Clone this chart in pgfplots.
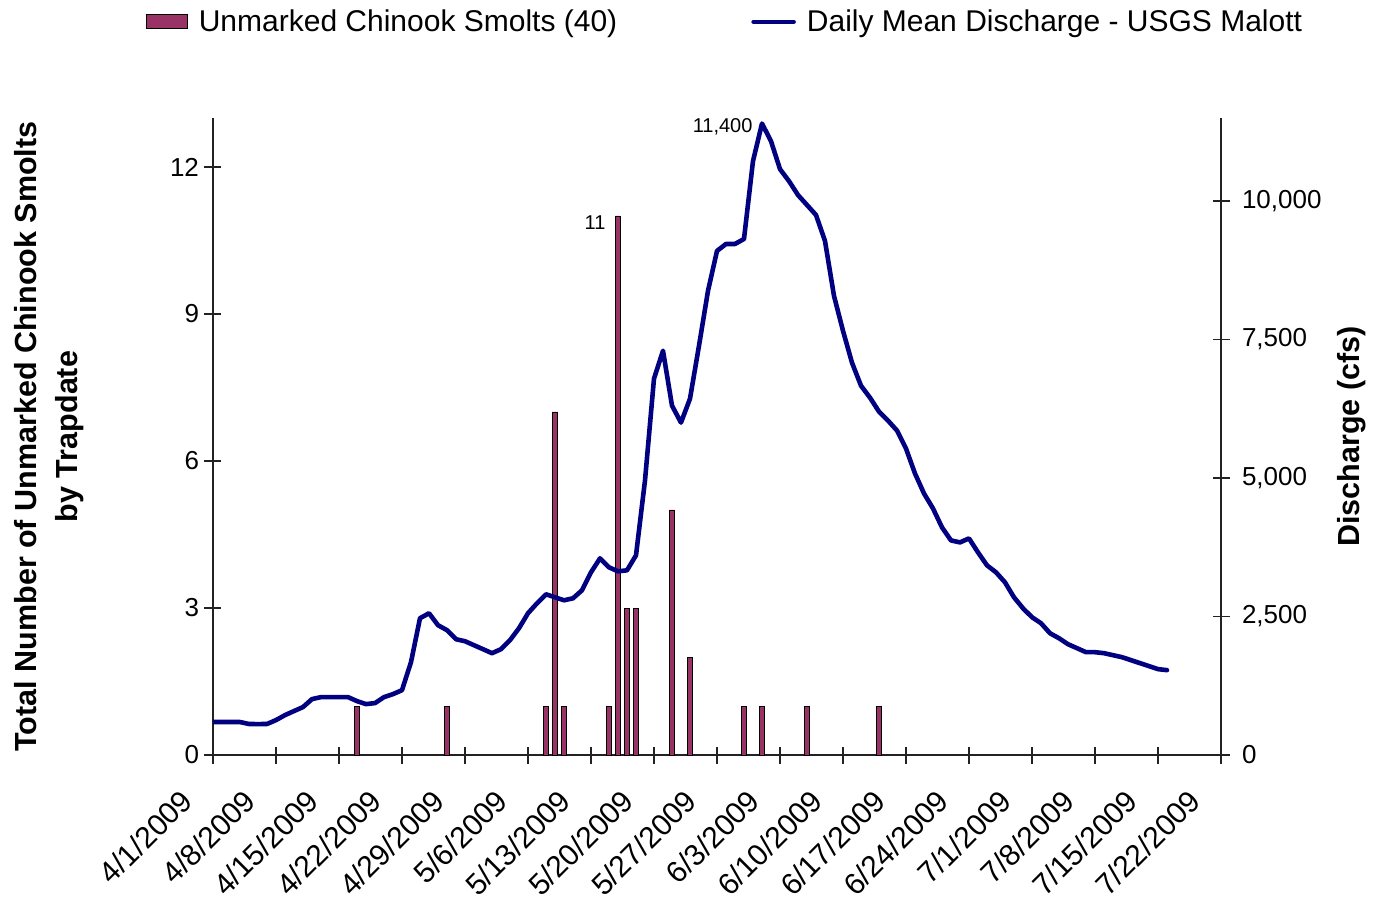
\documentclass[border=0pt]{standalone}
\usepackage{pgfplots}
\pgfplotsset{compat=1.18}
\usepackage{pgfplotstable}
\usepackage{fontspec}
\setmainfont{Liberation Sans}
\definecolor{barcol}{HTML}{993366}
\definecolor{linecol}{HTML}{000080}
\definecolor{axcol}{HTML}{222222}

\pgfplotstableread{
day cfs
0 595
1 595
2 595
3 595
4 560
5 558
6 560
7 630
8 720
9 793
10 865
11 1009
12 1045
13 1045
14 1045
15 1045
16 973
17 919
18 937
19 1045
20 1099
21 1171
22 1676
23 2469
24 2559
25 2343
26 2253
27 2090
28 2054
29 1982
30 1910
31 1838
32 1910
33 2072
34 2289
35 2559
36 2739
37 2901
38 2847
39 2793
40 2829
41 2973
42 3298
43 3550
44 3388
45 3316
46 3334
47 3604
48 4956
49 6794
50 7298
51 6307
52 6001
53 6433
54 7388
55 8379
56 9100
57 9226
58 9226
59 9316
60 10722
61 11400
62 11082
63 10577
64 10361
65 10109
66 9929
67 9749
68 9280
69 8289
70 7658
71 7082
72 6667
73 6451
74 6199
75 6037
76 5857
77 5532
78 5082
79 4721
80 4451
81 4109
82 3874
83 3838
84 3910
85 3658
86 3424
87 3298
88 3117
89 2847
90 2649
91 2487
92 2379
93 2198
94 2108
95 2000
96 1928
97 1856
98 1856
99 1838
100 1802
101 1766
102 1712
103 1658
104 1604
105 1550
106 1532
}\discharge

\pgfplotstableread{
day n
16 1
26 1
37 1
38 7
39 1
44 1
45 11
46 3
47 3
51 5
53 2
59 1
61 1
66 1
74 1
}\smolts

\begin{document}
\begin{tikzpicture}
\useasboundingbox (-213pt,-150pt) rectangle (1161pt,755pt);
\pgfplotsset{
  every axis/.append style={
    scale only axis, width=1008pt, height=637pt,
    xmin=0, xmax=112,
    axis line style={axcol, line width=1.2pt},
    every tick/.style={axcol, line width=1.2pt},
    tick align=center, major tick length=17pt,
    tick label style={font=\fontsize{26}{30}\selectfont, black},
    /pgf/number format/assume math mode=true,
  },
}
\begin{axis}[
  axis x line=bottom, axis y line=left,
  x axis line style={-}, y axis line style={-},
  ymin=0, ymax=13,
  ytick={0,3,6,9,12},
  xtick={0,7,...,112},
  xticklabels={4/1/2009,4/8/2009,4/15/2009,4/22/2009,4/29/2009,5/6/2009,5/13/2009,5/20/2009,5/27/2009,6/3/2009,6/10/2009,6/17/2009,6/24/2009,7/1/2009,7/8/2009,7/15/2009,7/22/2009},
  xticklabel style={rotate=45, anchor=north east, inner sep=0pt, xshift=-41pt, yshift=7pt, font=\fontsize{30}{34}\selectfont},
  yticklabel style={xshift=-2pt},
  ylabel={Total Number of Unmarked Chinook Smolts\\by Trapdate},
  ylabel style={at={(axis description cs:-0.1627,0.5)}, anchor=center, align=center, font=\fontsize{30.5}{41}\selectfont\bfseries},
]
\addplot[ybar, bar width=5pt, bar shift=0pt, fill=barcol, draw=black, line width=0.8pt] table[x=day, y=n] {\smolts};
\node[anchor=east, font=\fontsize{20}{24}\selectfont] at (axis cs:45,11) [xshift=-9pt, yshift=-7pt] {11};
\end{axis}
\begin{axis}[
  axis y line=right, axis x line=none,
  y axis line style={-},
  ymin=0, ymax=11500,
  ytick={0,2500,5000,7500,10000},
  scaled y ticks=false,
  yticklabel style={xshift=9pt, /pgf/number format/.cd, fixed, 1000 sep={,}},
  ylabel={Discharge (cfs)},
  ylabel style={at={(axis description cs:1.130,0.5)}, anchor=center, rotate=0, font=\fontsize{30.5}{36}\selectfont\bfseries},
  legend columns=2,
  legend style={at={(axis description cs:0.508,1.151)}, anchor=center, draw=none, fill=none,
    font=\fontsize{30}{36}\selectfont,
    /tikz/every odd column/.append style={column sep=9pt},
    /tikz/every even column/.append style={column sep=132pt}},
  legend cell align=left,
]
\addlegendimage{legend image code/.code={\draw[fill=barcol, draw=black, line width=0.8pt] (0pt,-7pt) rectangle (41pt,7pt);}}
\addlegendentry{Unmarked Chinook Smolts (40)}
\addplot[linecol, line width=4.6pt, line join=round, line cap=round, legend image code/.code={\draw[linecol, line width=4.6pt] (0pt,0pt) -- (40pt,0pt);}] table[x=day, y=cfs] {\discharge};
\addlegendentry{Daily Mean Discharge - USGS Malott}
\node[anchor=east, font=\fontsize{20}{24}\selectfont] at (axis cs:61,11400) [xshift=-6pt, yshift=-3pt] {11,400};
\end{axis}
\end{tikzpicture}
\end{document}
